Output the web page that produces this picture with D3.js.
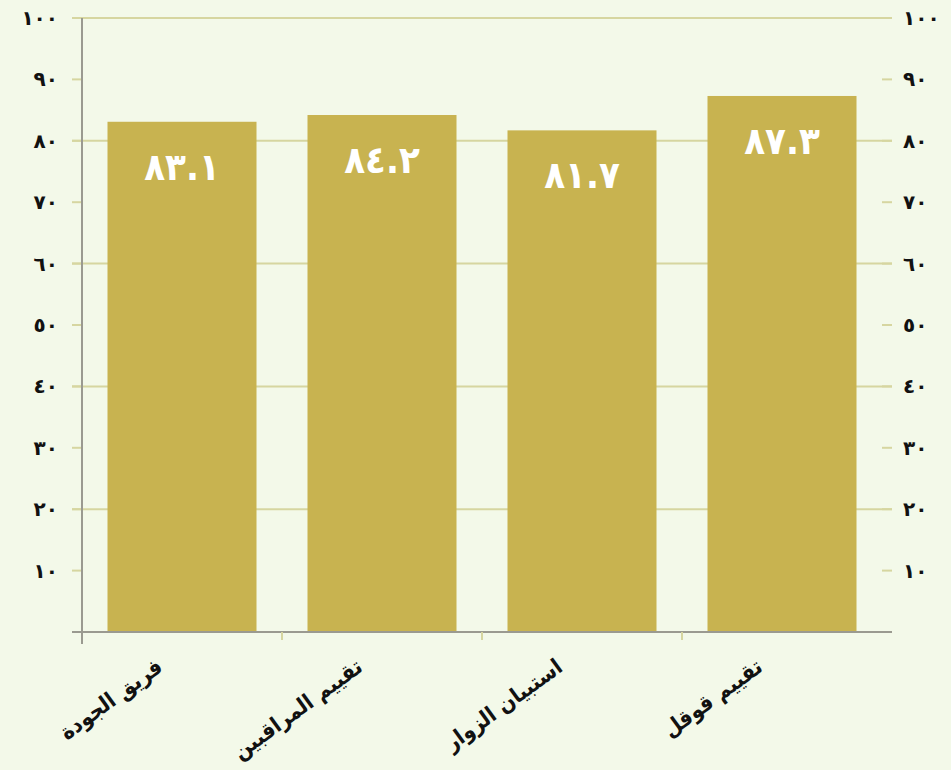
<!DOCTYPE html>
<html>
<head>
<meta charset="utf-8">
<script src="https://cdn.jsdelivr.net/npm/d3@7"></script>
<style>
  body { margin: 0; background: #f3f9e9; }
  svg { display: block; }
</style>
</head>
<body>
<svg width="951" height="770"></svg>
<script>
const categories = ['فريق الجودة', 'تقييم المراقبين', 'استبيان الزوار', 'تقييم قوقل'];
const values = [83.1, 84.2, 81.7, 87.3];
const yTicks = [10, 20, 30, 40, 50, 60, 70, 80, 90, 100];
const gridTicks = [20, 40, 60, 80, 100];

const svg = d3.select('svg');
const width = +svg.attr('width');
const height = +svg.attr('height');

// arabic-indic digits
const digits = '٠١٢٣٤٥٦٧٨٩';
const toArabic = s => String(s).replace(/[0-9]/g, d => digits[+d]);

const plotLeft = 82, plotRight = 882, plotTop = 18, plotBottom = 632;

const x = d3.scaleBand().domain(categories).range([plotLeft, plotRight]).paddingInner(0.255).paddingOuter(0.1275);
const y = d3.scaleLinear().domain([0, 100]).range([plotBottom, plotTop]);

svg.append('rect').attr('width', width).attr('height', height).attr('fill', '#f3f9e9');

const gridColor = '#d6d6a0';

// gridlines (every 20)
svg.append('g').selectAll('line').data(gridTicks).join('line')
    .attr('x1', plotLeft - 10).attr('x2', plotRight + 10)
    .attr('y1', d => y(d)).attr('y2', d => y(d))
    .attr('stroke', gridColor).attr('stroke-width', 2);

// small ticks both sides
const tickG = svg.append('g');
tickG.selectAll('line.l').data(yTicks).join('line').attr('class', 'l')
    .attr('x1', plotLeft - 10).attr('x2', plotLeft)
    .attr('y1', d => y(d)).attr('y2', d => y(d))
    .attr('stroke', gridColor).attr('stroke-width', 2);
tickG.selectAll('line.r').data(yTicks).join('line').attr('class', 'r')
    .attr('x1', plotRight).attr('x2', plotRight + 10)
    .attr('y1', d => y(d)).attr('y2', d => y(d))
    .attr('stroke', gridColor).attr('stroke-width', 2);

// bars
svg.append('g').selectAll('rect').data(values).join('rect')
    .attr('x', (d, i) => x(categories[i]))
    .attr('width', x.bandwidth())
    .attr('y', d => y(d))
    .attr('height', d => y(0) - y(d))
    .attr('fill', '#c8b350');

// value labels
svg.append('g').selectAll('text').data(values).join('text')
    .attr('x', (d, i) => x(categories[i]) + x.bandwidth() / 2)
    .attr('y', d => y(d) + 58)
    .attr('text-anchor', 'middle')
    .attr('font-family', 'DejaVu Sans Condensed, DejaVu Sans')
    .attr('font-weight', 'bold')
    .attr('font-size', 38)
    .attr('letter-spacing', -1)
    .attr('fill', '#ffffff')
    .text(d => toArabic(d.toFixed(1)));

// axes lines
svg.append('line')
    .attr('x1', plotLeft).attr('x2', plotLeft).attr('y1', plotTop).attr('y2', plotBottom + 12)
    .attr('stroke', '#9a9a90').attr('stroke-width', 2);
svg.append('line')
    .attr('x1', plotLeft - 10).attr('x2', plotRight + 10).attr('y1', plotBottom).attr('y2', plotBottom)
    .attr('stroke', '#9a9a90').attr('stroke-width', 2);

// category tick marks
svg.append('g').selectAll('line').data(categories.slice(1)).join('line')
    .attr('x1', d => x(d) - x.step() * x.paddingInner() / 2)
    .attr('x2', d => x(d) - x.step() * x.paddingInner() / 2)
    .attr('y1', plotBottom).attr('y2', plotBottom + 8)
    .attr('stroke', gridColor).attr('stroke-width', 2);

// y tick labels
const yl = svg.append('g')
    .attr('font-family', 'DejaVu Sans')
    .attr('font-weight', 'bold')
    .attr('font-size', 20)
    .attr('fill', '#111');
yl.selectAll('text.l').data(yTicks).join('text').attr('class', 'l')
    .attr('x', 58).attr('y', d => y(d))
    .attr('dy', '0.35em')
    .attr('text-anchor', 'end')
    .text(d => toArabic(d));
yl.selectAll('text.r').data(yTicks).join('text').attr('class', 'r')
    .attr('x', 903).attr('y', d => y(d))
    .attr('dy', '0.35em')
    .attr('text-anchor', 'start')
    .text(d => toArabic(d));

// category labels, rotated
svg.append('g').selectAll('text').data(categories).join('text')
    .attr('transform', d => `translate(${x(d) + x.bandwidth() / 2 - 18}, 670) rotate(-36)`)
    .attr('text-anchor', 'end')
    .attr('font-family', 'DejaVu Sans Condensed, DejaVu Sans')
    .attr('font-weight', 'bold')
    .attr('font-size', 22)
    .attr('fill', '#111')
    .text(d => d);
</script>
</body>
</html>
